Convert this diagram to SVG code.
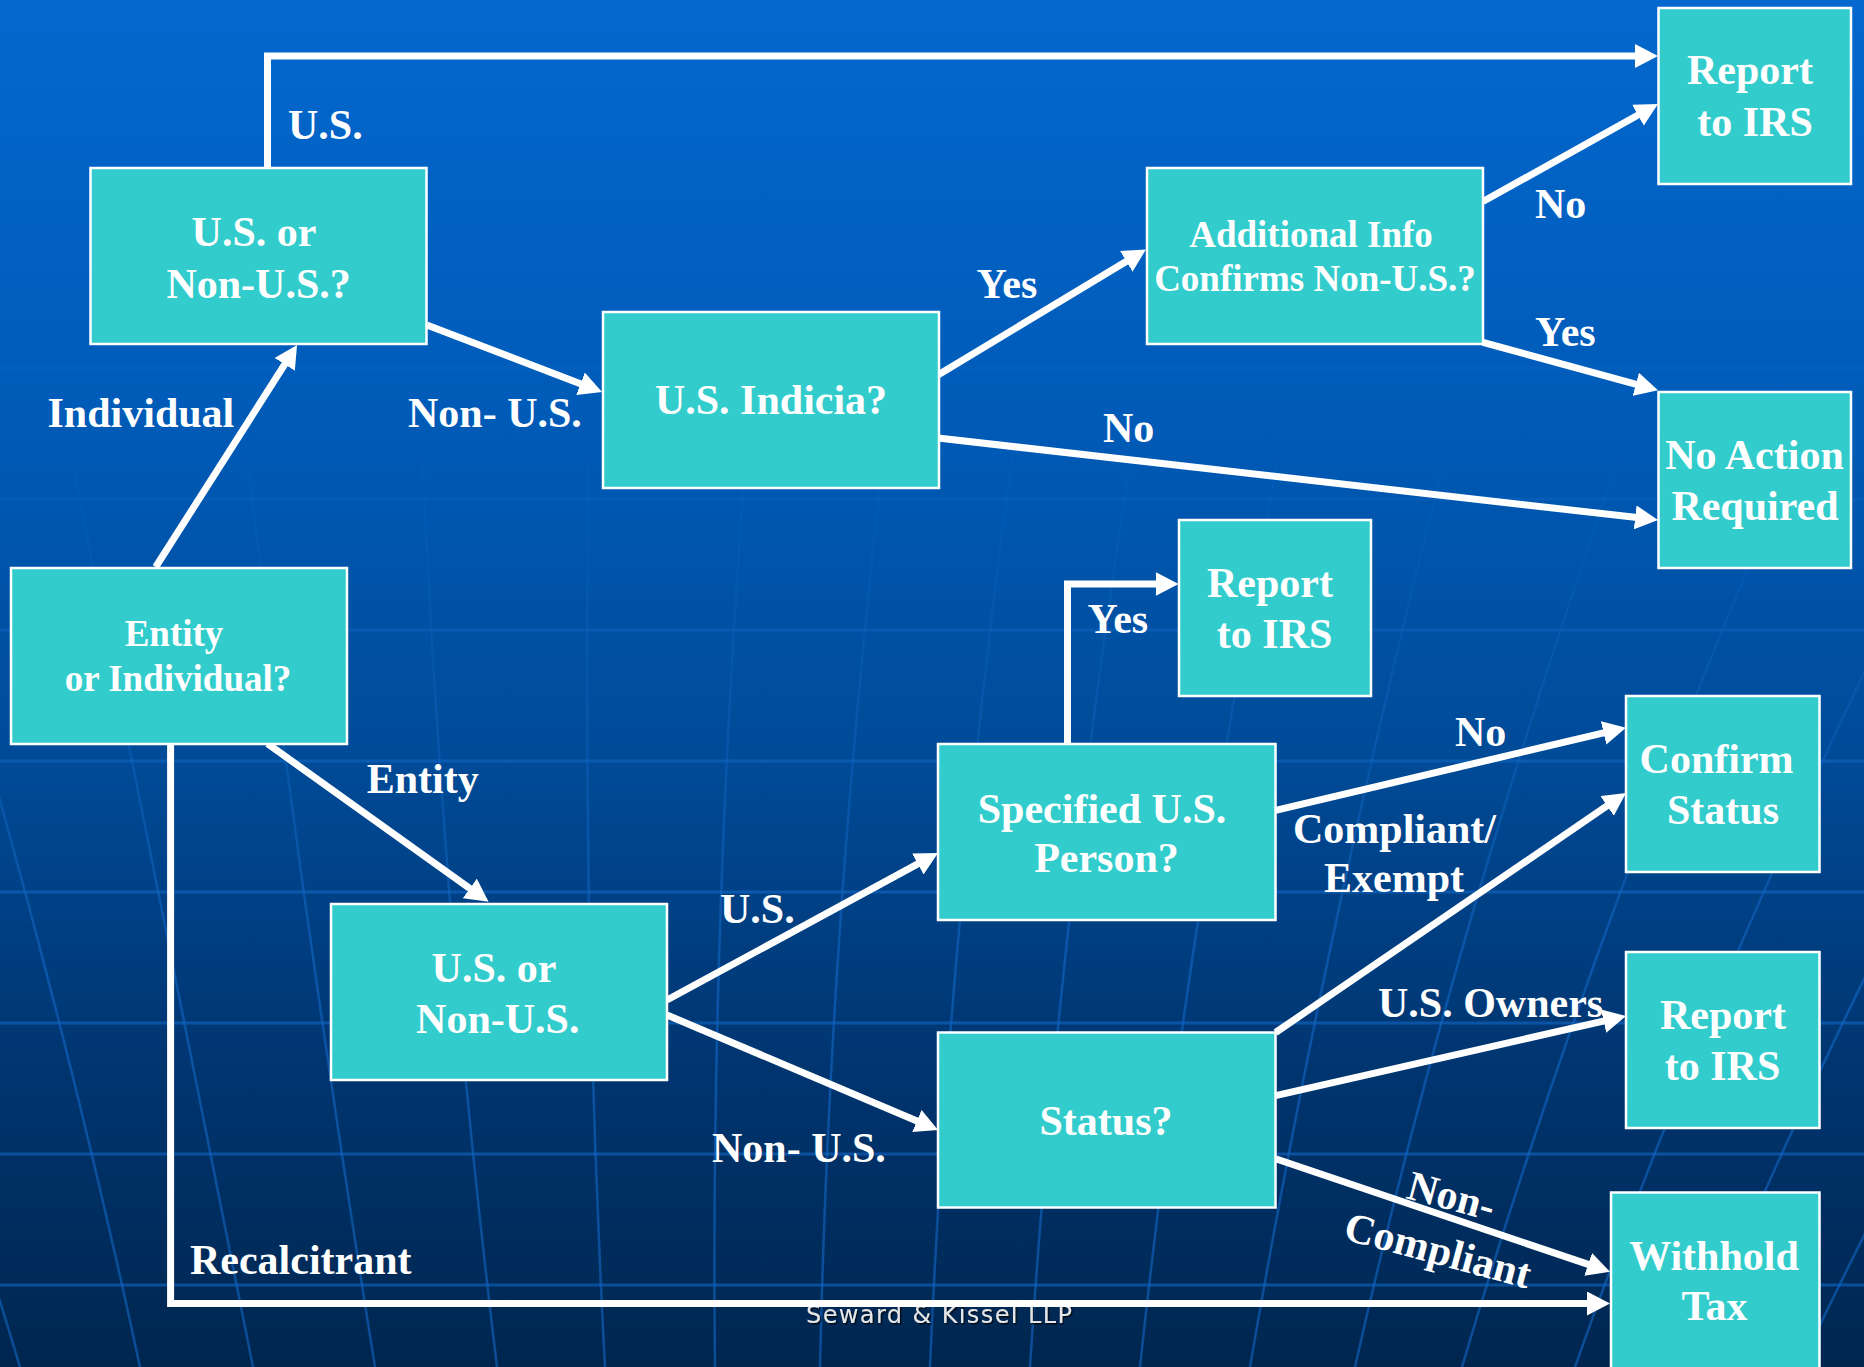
<svg xmlns="http://www.w3.org/2000/svg" width="1864" height="1367" viewBox="0 0 1864 1367">
<defs>
<linearGradient id="bg" x1="0" y1="0" x2="0" y2="1">
<stop offset="0" stop-color="#0468CE"/>
<stop offset="0.3" stop-color="#005BB8"/>
<stop offset="0.55" stop-color="#004B98"/>
<stop offset="0.78" stop-color="#003570"/>
<stop offset="1" stop-color="#00264F"/>
</linearGradient>
<linearGradient id="gridFade" gradientUnits="userSpaceOnUse" x1="0" y1="350" x2="0" y2="950">
<stop offset="0" stop-color="#1266C4" stop-opacity="0"/>
<stop offset="1" stop-color="#1266C4" stop-opacity="0.6"/>
</linearGradient>
<linearGradient id="hFade" gradientUnits="userSpaceOnUse" x1="0" y1="300" x2="0" y2="800">
<stop offset="0" stop-color="#1266C4" stop-opacity="0.15"/>
<stop offset="1" stop-color="#1266C4" stop-opacity="0.6"/>
</linearGradient>
<marker id="ah" markerUnits="userSpaceOnUse" markerWidth="23" markerHeight="24" viewBox="0 0 23 24" refX="11" refY="12" orient="auto">
<path d="M0,0 L23,12 L0,24 z" fill="#ffffff"/>
</marker>
<filter id="sh" x="-5%" y="-20%" width="110%" height="160%">
<feDropShadow dx="1.5" dy="1.5" stdDeviation="0.6" flood-color="#000000" flood-opacity="0.7"/>
</filter>
<style>
.box{fill:#33CCCC;stroke:#ffffff;stroke-width:2.5}
.t{font-family:"Liberation Serif","Times New Roman",serif;font-weight:bold;fill:#ffffff;font-size:42px}
.c{text-anchor:middle}
.s{font-size:37px}
.conn{stroke:#ffffff;stroke-width:7;fill:none}
.arr{marker-end:url(#ah)}
.hg{stroke:url(#hFade);stroke-width:3;fill:none}
.mg{stroke:url(#gridFade);stroke-width:2.5;fill:none}
</style>
</defs>

<rect x="0" y="0" width="1864" height="1367" fill="url(#bg)"/>
<g id="grid">
<path class="hg" d="M0,368 H1864 M0,499 H1864 M0,630 H1864 M0,761 H1864 M0,892 H1864 M0,1023 H1864 M0,1154 H1864 M0,1285 H1864"/>
<path class="mg" d="M20,1367 Q-120,900 -330,400 M140,1367 Q40,900 -120,400 M253,1367 Q160,900 60,400 M375,1367 Q300,900 240,400 M497,1367 Q440,900 420,400 M605,1367 Q580,900 590,400 M715,1367 Q710,900 750,400 M820,1367 Q830,900 890,400 M930,1367 Q950,900 1020,400 M1030,1367 Q1060,900 1140,400 M1140,1367 Q1190,900 1290,400 M1250,1367 Q1330,900 1460,400 M1355,1367 Q1460,900 1640,400 M1462,1367 Q1600,900 1820,400 M1575,1367 Q1740,900 2000,400 M1690,1367 Q1880,900 2180,400 M1800,1367 Q2020,900 2360,400"/>
</g>

<text x="806" y="1323" font-family="'DejaVu Sans', Verdana, sans-serif" font-size="24" fill="#E6E6E6" textLength="266" lengthAdjust="spacing" filter="url(#sh)">Seward &amp; Kissel LLP</text>

<g id="connectors">
<path class="conn arr" d="M155.7,567 L290.6,355.1"/>
<path class="conn arr" d="M426.8,325 L590.8,387.7"/>
<path class="conn arr" d="M267.5,168 L267.5,56 L1646,56"/>
<path class="conn arr" d="M938,375 L1135.7,255.7"/>
<path class="conn arr" d="M1483,201.5 L1647.5,109.8"/>
<path class="conn arr" d="M1483,342.4 L1646.4,387.2"/>
<path class="conn arr" d="M938,438 L1646.1,518.6"/>
<path class="conn arr" d="M1067.5,744 L1067.5,584 L1166.5,584"/>
<path class="conn arr" d="M267.5,743.7 L478.8,894.8"/>
<path class="conn arr" d="M170.6,744 L170.6,1303.5 L1598,1303.5"/>
<path class="conn arr" d="M667,1000 L927.5,858.7"/>
<path class="conn arr" d="M667,1015 L927,1125.3"/>
<path class="conn arr" d="M1275.6,810.3 L1614.3,730.4"/>
<path class="conn arr" d="M1275.6,1032.5 L1616.1,799.7"/>
<path class="conn arr" d="M1275.6,1095.6 L1614.3,1018.7"/>
<path class="conn arr" d="M1275.6,1158.8 L1598.6,1267.9"/>
</g>

<g id="labels">
<text class="t" x="288" y="139">U.S.</text>
<text class="t" x="47.5" y="427">Individual</text>
<text class="t" x="408" y="427">Non- U.S.</text>
<text class="t" x="976.6" y="298">Yes</text>
<text class="t" x="1535" y="218">No</text>
<text class="t" x="1535" y="346">Yes</text>
<text class="t" x="1103" y="441.5">No</text>
<text class="t" x="1087.5" y="633">Yes</text>
<text class="t" x="366.7" y="793">Entity</text>
<text class="t" x="720" y="922.7">U.S.</text>
<text class="t" x="712" y="1162">Non- U.S.</text>
<text class="t" x="190" y="1274">Recalcitrant</text>
<text class="t" x="1455" y="746">No</text>
<text class="t" x="1293" y="843">Compliant/</text>
<text class="t" x="1324" y="892">Exempt</text>
<text class="t" x="1378" y="1017">U.S. Owners</text>
<text class="t" transform="translate(1405,1198) rotate(15)">Non-</text>
<text class="t" transform="translate(1342,1239) rotate(15)">Compliant</text>
</g>

<g id="node-us-or-nonus-top">
<rect class="box" x="90.5" y="168" width="336" height="176"/>
<text class="t c" x="254" y="245.6">U.S. or</text>
<text class="t c" x="258.6" y="297.5">Non-U.S.?</text>
</g>
<g id="node-us-indicia">
<rect class="box" x="603" y="312" width="336" height="176"/>
<text class="t c" x="771" y="414">U.S. Indicia?</text>
</g>
<g id="node-additional-info">
<rect class="box" x="1147" y="168" width="336" height="176"/>
<text class="t c s" x="1311" y="246.5">Additional Info</text>
<text class="t c s" x="1315" y="291.4">Confirms Non-U.S.?</text>
</g>
<g id="node-report-top">
<rect class="box" x="1658.5" y="8" width="192.5" height="176"/>
<text class="t c" x="1750" y="84">Report</text>
<text class="t c" x="1755" y="136">to IRS</text>
</g>
<g id="node-no-action">
<rect class="box" x="1658.5" y="392" width="192.5" height="176"/>
<text class="t c" x="1754.5" y="469">No Action</text>
<text class="t c" x="1755" y="520">Required</text>
</g>
<g id="node-report-mid">
<rect class="box" x="1179" y="520" width="192" height="176"/>
<text class="t c" x="1270" y="597">Report</text>
<text class="t c" x="1274.6" y="648">to IRS</text>
</g>
<g id="node-entity">
<rect class="box" x="11" y="568" width="336" height="176"/>
<text class="t c s" x="174" y="645.6">Entity</text>
<text class="t c s" x="178" y="691">or Individual?</text>
</g>
<g id="node-us-or-nonus-mid">
<rect class="box" x="331" y="904" width="336" height="176"/>
<text class="t c" x="494" y="981.5">U.S. or</text>
<text class="t c" x="497.8" y="1032.5">Non-U.S.</text>
</g>
<g id="node-specified">
<rect class="box" x="938" y="744" width="337.5" height="176"/>
<text class="t c" x="1102" y="822.5">Specified U.S.</text>
<text class="t c" x="1106.5" y="872.2">Person?</text>
</g>
<g id="node-status">
<rect class="box" x="938" y="1032.5" width="337.5" height="175"/>
<text class="t c" x="1106" y="1135">Status?</text>
</g>
<g id="node-confirm-status">
<rect class="box" x="1626" y="696" width="193.5" height="176"/>
<text class="t c" x="1716.6" y="773.3">Confirm</text>
<text class="t c" x="1723" y="824.3">Status</text>
</g>
<g id="node-report-low">
<rect class="box" x="1626" y="952" width="193.5" height="176"/>
<text class="t c" x="1723" y="1029">Report</text>
<text class="t c" x="1722.5" y="1079.5">to IRS</text>
</g>
<g id="node-withhold">
<rect class="box" x="1611" y="1192.5" width="208.5" height="178"/>
<text class="t c" x="1714" y="1270">Withhold</text>
<text class="t c" x="1714.5" y="1320">Tax</text>
</g>
</svg>
